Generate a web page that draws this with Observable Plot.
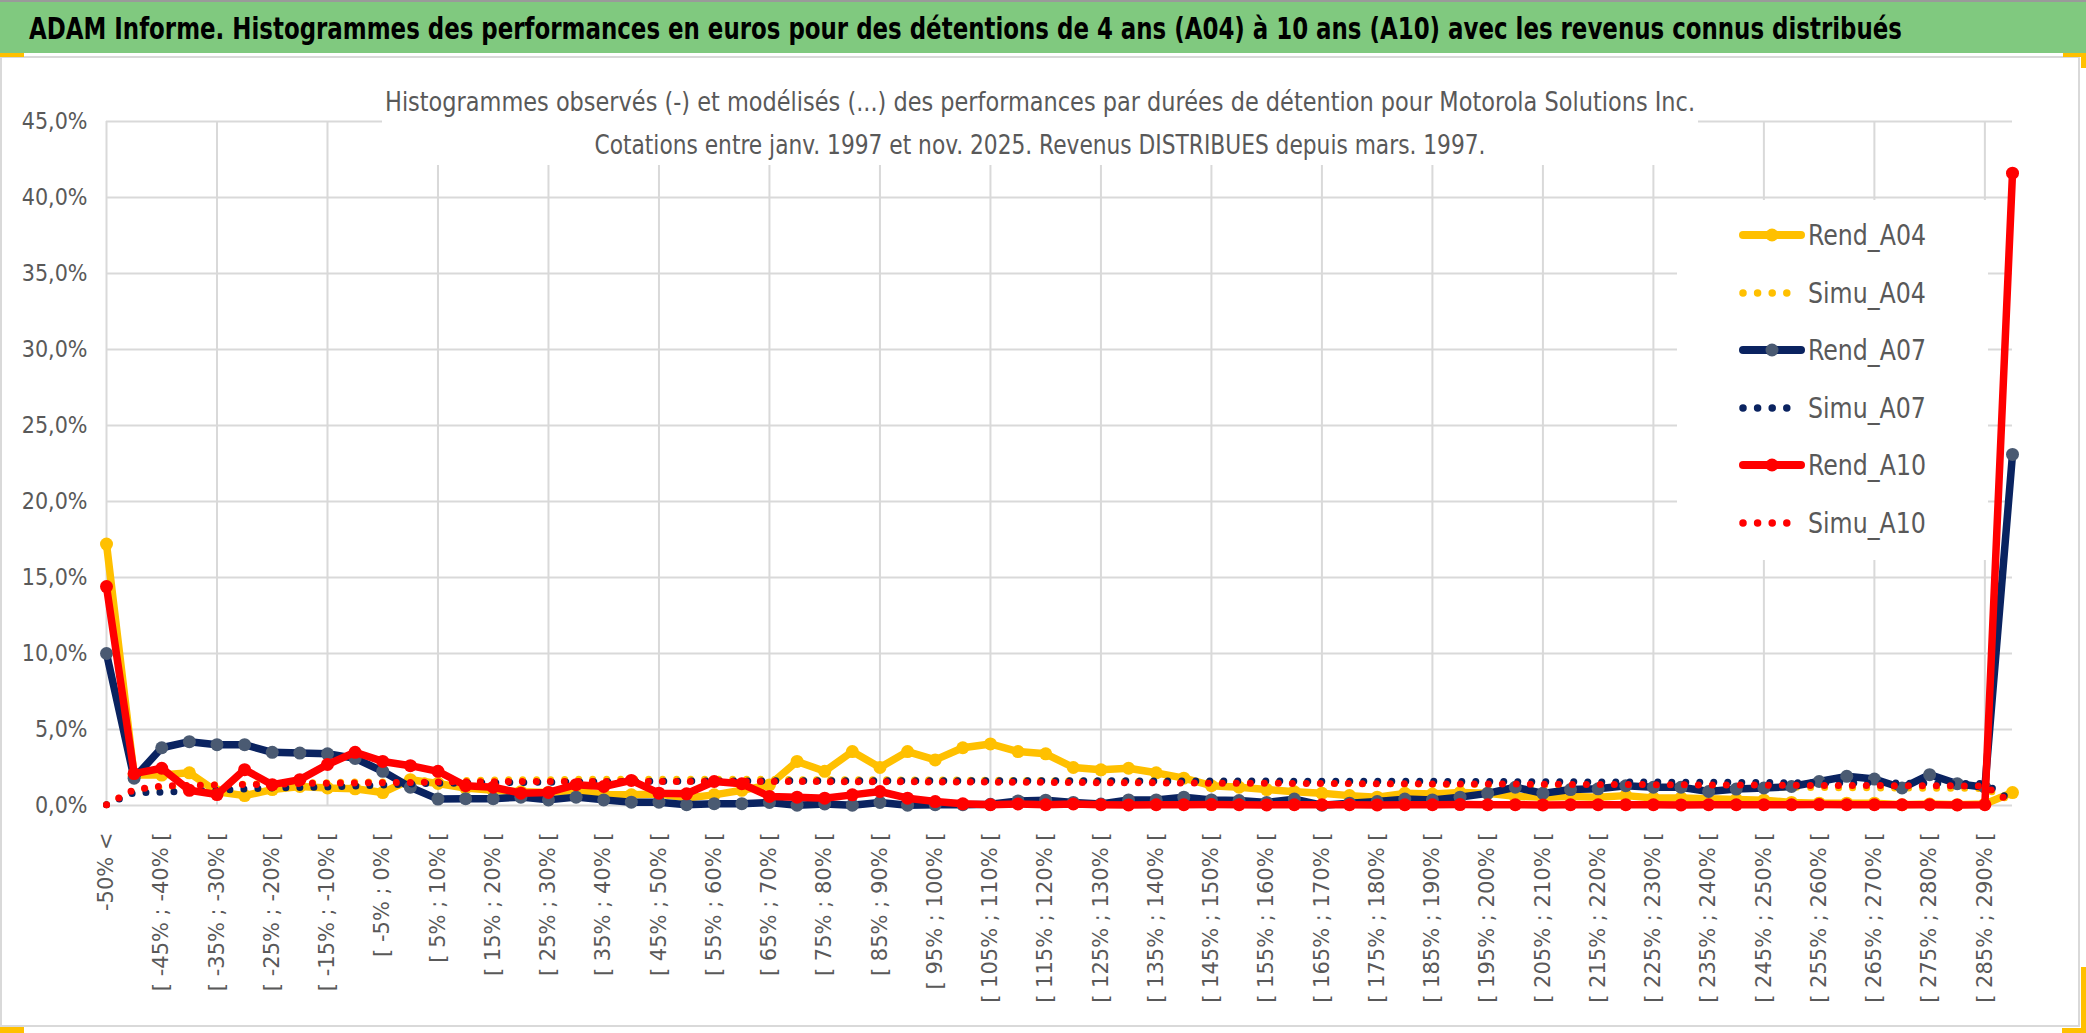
<!DOCTYPE html>
<html><head><meta charset="utf-8">
<script src="https://cdn.jsdelivr.net/npm/d3@7"></script>
<script src="https://cdn.jsdelivr.net/npm/@observablehq/plot@0.6"></script>
<style>
html,body{margin:0;padding:0;background:#fff;}
#page{position:relative;width:2086px;height:1033px;overflow:hidden;background:#fff;}
#band{position:absolute;left:0;top:0;width:2086px;height:53px;background:#80C97F;border-top:2px solid #9a9a9a;box-sizing:border-box;}
#title{position:absolute;left:29px;top:50%;white-space:nowrap;font-weight:bold;font-size:31px;color:#000;transform-origin:0 50%;}
.narrow{font-family:"Liberation Sans Narrow","DejaVu Sans Condensed","Roboto Condensed","Liberation Sans",sans-serif;}
#frame{position:absolute;left:0;top:56px;width:2080px;height:971px;border:2px solid #d9d9d9;box-sizing:border-box;background:#fff;}
#chart{position:absolute;left:0;top:56px;}
#subbox{position:absolute;left:382px;top:80px;width:1316px;height:85px;background:#fff;}
.subline{position:absolute;left:1040px;white-space:nowrap;font-size:26px;color:#595959;transform-origin:50% 50%;}
#legend{position:absolute;left:1677px;top:200px;width:311px;height:360px;background:#fff;}
.litem{position:absolute;left:0;width:311px;height:40px;}
.litem svg{position:absolute;left:60px;top:0;}
.ltext{position:absolute;left:131px;top:50%;white-space:nowrap;font-size:29px;color:#595959;transform-origin:0 50%;}
.yel{position:absolute;background:#FFC000;}
</style>
</head><body>
<div id="page">
  <div id="frame"></div>
  <div id="band"><span id="title" class="narrow">ADAM Informe. Histogrammes des performances en euros pour des détentions de 4 ans (A04) à 10 ans (A10) avec les revenus connus distribués</span></div>
  <div id="chart"></div>
  <div id="subbox"></div>
  <div class="subline narrow" id="sub1" style="top:102px">Histogrammes observés (-) et modélisés (...) des performances par durées de détention pour Motorola Solutions Inc.</div>
  <div class="subline narrow" id="sub2" style="top:145px">Cotations entre janv. 1997 et nov. 2025. Revenus DISTRIBUES depuis mars. 1997.</div>
  <div id="legend"></div>
  <div class="yel" style="left:0;top:53px;width:24px;height:4px"></div>
  <div class="yel" style="left:2063px;top:53px;width:23px;height:4px"></div>
  <div class="yel" style="left:2081px;top:53px;width:5px;height:15px"></div>
  <div class="yel" style="left:0;top:1027px;width:24px;height:6px"></div>
  <div class="yel" style="left:2081px;top:967px;width:5px;height:66px"></div>
  <div class="yel" style="left:2062px;top:1028px;width:24px;height:5px"></div>
</div>
<script>
// ---------- data ----------
const categories = [
  "-50% <",
  "[ -50% ; -45% [", "[ -45% ; -40% [", "[ -40% ; -35% [", "[ -35% ; -30% [", "[ -30% ; -25% [",
  "[ -25% ; -20% [", "[ -20% ; -15% [", "[ -15% ; -10% [", "[ -10% ; -5% [", "[ -5% ; 0% [",
  "[ 0% ; 5% [", "[ 5% ; 10% [", "[ 10% ; 15% [", "[ 15% ; 20% [", "[ 20% ; 25% [",
  "[ 25% ; 30% [", "[ 30% ; 35% [", "[ 35% ; 40% [", "[ 40% ; 45% [", "[ 45% ; 50% [",
  "[ 50% ; 55% [", "[ 55% ; 60% [", "[ 60% ; 65% [", "[ 65% ; 70% [", "[ 70% ; 75% [",
  "[ 75% ; 80% [", "[ 80% ; 85% [", "[ 85% ; 90% [", "[ 90% ; 95% [", "[ 95% ; 100% [",
  "[ 100% ; 105% [", "[ 105% ; 110% [", "[ 110% ; 115% [", "[ 115% ; 120% [", "[ 120% ; 125% [",
  "[ 125% ; 130% [", "[ 130% ; 135% [", "[ 135% ; 140% [", "[ 140% ; 145% [", "[ 145% ; 150% [",
  "[ 150% ; 155% [", "[ 155% ; 160% [", "[ 160% ; 165% [", "[ 165% ; 170% [", "[ 170% ; 175% [",
  "[ 175% ; 180% [", "[ 180% ; 185% [", "[ 185% ; 190% [", "[ 190% ; 195% [", "[ 195% ; 200% [",
  "[ 200% ; 205% [", "[ 205% ; 210% [", "[ 210% ; 215% [", "[ 215% ; 220% [", "[ 220% ; 225% [",
  "[ 225% ; 230% [", "[ 230% ; 235% [", "[ 235% ; 240% [", "[ 240% ; 245% [", "[ 245% ; 250% [",
  "[ 250% ; 255% [", "[ 255% ; 260% [", "[ 260% ; 265% [", "[ 265% ; 270% [", "[ 270% ; 275% [",
  "[ 275% ; 280% [", "[ 280% ; 285% [", "[ 285% ; 290% [", "290% >"
];

// values in %
const rendA04 = [
  17.2, 2.0, 2.0, 2.15, 0.9, 0.65, 1.05, 1.25, 1.15, 1.1,
  0.85, 1.7, 1.45, 1.15, 1.0, 0.9, 0.85, 1.0, 0.7, 0.7,
  0.75, 0.5, 0.7, 1.0, 1.35, 2.9, 2.25, 3.55, 2.5, 3.55,
  3.0, 3.8, 4.05, 3.55, 3.4, 2.5, 2.35, 2.45, 2.15, 1.8,
  1.3, 1.2, 1.05, 0.9, 0.8, 0.65, 0.55, 0.8, 0.75, 0.85,
  0.8, 0.6, 0.55, 0.6, 0.55, 0.65, 0.5, 0.5, 0.45, 0.4,
  0.35, 0.2, 0.15, 0.15, 0.15, 0.05, 0.1, 0.05, 0.1, 0.85
];
const simuA04 = [
  0.05, 1.0, 1.2, 1.3, 1.35, 1.4, 1.45, 1.5, 1.5, 1.55,
  1.55, 1.6, 1.65, 1.65, 1.68, 1.7, 1.7, 1.72, 1.72, 1.72,
  1.72, 1.72, 1.72, 1.72, 1.72, 1.7, 1.7, 1.7, 1.7, 1.68,
  1.68, 1.67, 1.66, 1.65, 1.64, 1.62, 1.6, 1.6, 1.58, 1.56,
  1.55, 1.53, 1.51, 1.5, 1.48, 1.46, 1.44, 1.42, 1.4, 1.38,
  1.37, 1.35, 1.33, 1.32, 1.3, 1.28, 1.27, 1.25, 1.24, 1.22,
  1.21, 1.2, 1.18, 1.17, 1.16, 1.15, 1.14, 1.13, 1.12, 0.25
];
const rendA07 = [
  10.0, 1.8, 3.8, 4.2, 4.0, 4.0, 3.5, 3.45, 3.4, 3.1,
  2.25, 1.2, 0.42, 0.45, 0.45, 0.55, 0.37, 0.55, 0.37, 0.22,
  0.22, 0.05, 0.12, 0.12, 0.2, 0.02, 0.1, 0.02, 0.2, 0.02,
  0.05, 0.05, 0.08, 0.3, 0.35, 0.2, 0.1, 0.37, 0.37, 0.55,
  0.37, 0.33, 0.2, 0.42, 0.02, 0.15, 0.26, 0.42, 0.37, 0.55,
  0.8, 1.2, 0.8, 1.05, 1.1, 1.3, 1.2, 1.2, 0.92, 1.08,
  1.15, 1.25, 1.58, 1.92, 1.74, 1.15, 2.03, 1.43, 1.2, 23.1
];
const simuA07 = [
  0.05, 0.85, 0.88, 0.95, 1.0, 1.08, 1.15, 1.18, 1.22, 1.28,
  1.35, 1.42, 1.46, 1.48, 1.5, 1.52, 1.53, 1.55, 1.56, 1.58,
  1.6, 1.6, 1.62, 1.62, 1.62, 1.63, 1.63, 1.63, 1.63, 1.63,
  1.63, 1.63, 1.63, 1.63, 1.63, 1.63, 1.63, 1.62, 1.62, 1.62,
  1.62, 1.61, 1.61, 1.6, 1.6, 1.6, 1.6, 1.59, 1.59, 1.58,
  1.58, 1.57, 1.57, 1.56, 1.55, 1.55, 1.54, 1.53, 1.53, 1.52,
  1.51, 1.5, 1.5, 1.49, 1.48, 1.47, 1.46, 1.45, 1.44, 0.3
];
const rendA10 = [
  14.4, 2.1, 2.45, 1.0, 0.72, 2.36, 1.37, 1.7, 2.7, 3.5,
  2.9, 2.62, 2.25, 1.3, 1.2, 0.81, 0.86, 1.37, 1.25, 1.65,
  0.81, 0.77, 1.58, 1.43, 0.6, 0.55, 0.48, 0.7, 0.92, 0.48,
  0.26, 0.11, 0.05, 0.1, 0.05, 0.1, 0.05, 0.04, 0.05, 0.05,
  0.06, 0.05, 0.04, 0.05, 0.05, 0.05, 0.04, 0.05, 0.05, 0.06,
  0.05, 0.05, 0.04, 0.05, 0.05, 0.05, 0.05, 0.04, 0.05, 0.05,
  0.05, 0.05, 0.06, 0.05, 0.05, 0.05, 0.05, 0.04, 0.05, 41.6
];
const simuA10 = [
  0.05, 1.05, 1.28, 1.32, 1.35, 1.38, 1.4, 1.45, 1.47, 1.48,
  1.5, 1.52, 1.55, 1.56, 1.57, 1.58, 1.58, 1.58, 1.58, 1.58,
  1.58, 1.58, 1.58, 1.58, 1.58, 1.58, 1.57, 1.57, 1.56, 1.56,
  1.55, 1.55, 1.54, 1.53, 1.52, 1.51, 1.5, 1.5, 1.49, 1.48,
  1.47, 1.46, 1.46, 1.45, 1.44, 1.44, 1.43, 1.43, 1.42, 1.42,
  1.41, 1.41, 1.4, 1.39, 1.38, 1.38, 1.37, 1.36, 1.35, 1.35,
  1.34, 1.33, 1.32, 1.32, 1.31, 1.3, 1.3, 1.29, 1.28, 0.15
];
const yTicks = [0, 5, 10, 15, 20, 25, 30, 35, 40, 45];
const seriesNames = ["Rend_A04", "Simu_A04", "Rend_A07", "Simu_A07", "Rend_A10", "Simu_A10"];

// ---------- styles ----------
const styles = {
  Rend_A04: {values: rendA04, color: "#FFC000", marker: "#FFC000", dotted: false},
  Simu_A04: {values: simuA04, color: "#FFC000", dotted: true},
  Rend_A07: {values: rendA07, color: "#0A2360", marker: "#4A5A72", dotted: false},
  Simu_A07: {values: simuA07, color: "#0A2360", dotted: true},
  Rend_A10: {values: rendA10, color: "#FF0000", marker: "#FF0000", dotted: false},
  Simu_A10: {values: simuA10, color: "#FF0000", dotted: true}
};

const shownCats = categories.filter((d, i) => i % 2 === 0);
const gridCats = categories.filter((d, i) => i % 4 === 0);
const fmt = d => d.toFixed(1).replace(".", ",") + "%";

const marks = [
  Plot.gridY({ticks: yTicks, stroke: "#d9d9d9", strokeOpacity: 1, strokeWidth: 2}),
  Plot.gridX({ticks: gridCats, stroke: "#d9d9d9", strokeOpacity: 1, strokeWidth: 2}),
  Plot.axisY({ticks: yTicks, tickSize: 0, tickPadding: 19, tickFormat: fmt, fontSize: 23}),
  Plot.axisX({ticks: shownCats, tickSize: 0, tickPadding: 27, tickRotate: -90, textAnchor: "end", fontSize: 21, fontFamily: "DejaVu Sans"})
];
for (const name of seriesNames) {
  const s = styles[name];
  if (s.dotted) {
    marks.push(Plot.line(categories, {x: d => d, y: (d, i) => s.values[i], stroke: s.color, strokeWidth: 7,
      strokeDasharray: "0,14", strokeLinecap: "round", strokeLinejoin: "round"}));
  } else {
    marks.push(Plot.line(categories, {x: d => d, y: (d, i) => s.values[i], stroke: s.color, strokeWidth: 7.5,
      strokeLinejoin: "round", strokeLinecap: "round"}));
    marks.push(Plot.dot(categories, {x: d => d, y: (d, i) => s.values[i], r: 6.5, fill: s.marker, stroke: "none"}));
  }
}

const chart = Plot.plot({
  width: 2086, height: 977,
  marginLeft: 106, marginRight: 74, marginTop: 65, marginBottom: 228,
  x: {type: "point", domain: categories, padding: 0},
  y: {domain: [0, 45]},
  style: {background: "transparent", color: "#595959",
    fontFamily: '"Liberation Sans Narrow","DejaVu Sans Condensed","Liberation Sans",sans-serif', fontSize: "22px", overflow: "visible"},
  marks
});
document.getElementById("chart").appendChild(chart);

// ---------- legend ----------
const legend = document.getElementById("legend");
const centers = [35, 93, 150, 208, 265, 323];
seriesNames.forEach((name, k) => {
  const s = styles[name];
  const item = document.createElement("div");
  item.className = "litem";
  item.style.top = (centers[k] - 20) + "px";
  let sw;
  if (s.dotted) {
    const x2 = name === "Simu_A10" ? 64 : 50;
    sw = `<svg width="72" height="40"><line x1="6" y1="20" x2="${x2}" y2="20" stroke="${s.color}" stroke-width="7.5" stroke-linecap="round" stroke-dasharray="0,14.6"/></svg>`;
  } else {
    sw = `<svg width="72" height="40"><line x1="6" y1="20" x2="64" y2="20" stroke="${s.color}" stroke-width="8" stroke-linecap="round"/><circle cx="35" cy="20" r="6.5" fill="${s.marker}"/></svg>`;
  }
  item.innerHTML = sw + `<span class="ltext narrow">${name}</span>`;
  legend.appendChild(item);
});

// ---------- fit text widths ----------
function fit(el, target, pre) {
  el.style.transform = pre;
  const w = el.getBoundingClientRect().width;
  el.style.transform = pre + ` scaleX(${target / w})`;
}
fit(document.getElementById("title"), 1873, "translateY(-50%)");
fit(document.getElementById("sub1"), 1310, "translate(-50%,-50%)");
fit(document.getElementById("sub2"), 891, "translate(-50%,-50%)");
const lt = legend.querySelectorAll(".ltext");
lt[0].style.transform = "translateY(-50%)";
const k0 = 118 / lt[0].getBoundingClientRect().width;
lt.forEach(el => { el.style.transform = `translateY(-50%) scaleX(${k0})`; });
</script>
</body></html>
